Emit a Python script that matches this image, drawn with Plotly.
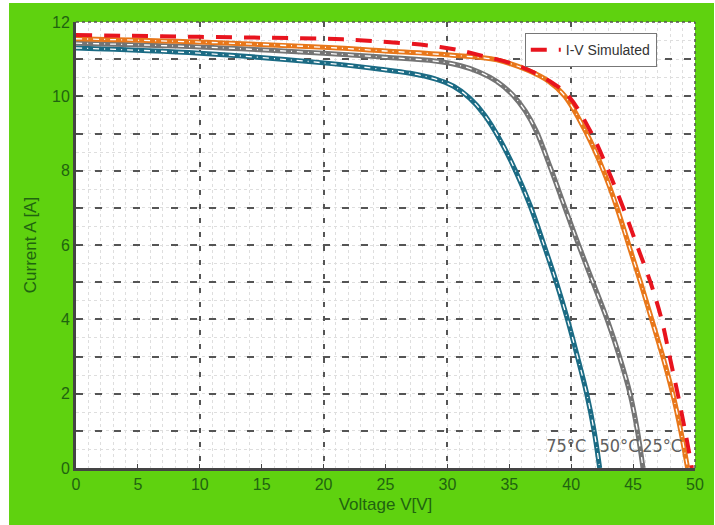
import plotly.graph_objects as go

# I-V characteristics of a PV module at three cell temperatures (measured)
v_25 = [0, 10, 20, 25, 30.2, 34.0, 36.5, 38.2, 39.5, 41.25, 42.6, 43.7, 44.65, 45.6, 46.5, 47.4, 48.2, 48.85, 49.4]
i_25 = [11.55, 11.46, 11.32, 11.22, 11.11, 10.98, 10.7, 10.4, 10.0, 9.0, 8.0, 7.0, 6.0, 5.0, 4.0, 3.0, 2.0, 1.0, 0.0]

v_50 = [0, 10, 20, 25, 29.0, 31.0, 32.6, 34.0, 35.3, 36.3, 37.2, 38.3, 39.5, 40.6, 41.75, 42.9, 43.9, 44.75, 45.35, 45.8]
i_50 = [11.43, 11.33, 11.16, 11.05, 10.95, 10.83, 10.65, 10.4, 10.03, 9.6, 9.05, 8.1, 7.0, 6.0, 5.0, 4.0, 3.0, 2.0, 1.0, 0.0]

v_75 = [0, 10, 20, 24.6, 27.0, 29.0, 30.5, 31.8, 33.0, 34.3, 35.5, 36.7, 37.8, 38.8, 39.7, 40.5, 41.25, 41.85, 42.3]
i_75 = [11.30, 11.16, 10.9, 10.73, 10.62, 10.47, 10.27, 9.95, 9.5, 8.8, 8.0, 7.05, 6.0, 5.0, 4.0, 3.0, 2.0, 1.0, 0.0]

# Simulated I-V curve (25 °C)
v_sim = [0, 10, 20, 22.9, 29.4, 32.6, 35.9, 38.3, 39.8, 41.65, 43.0, 44.2, 45.3, 46.4, 47.3, 47.95, 48.6, 49.2, 49.75]
i_sim = [11.65, 11.6, 11.55, 11.51, 11.33, 11.11, 10.8, 10.4, 10.0, 9.0, 8.0, 7.0, 6.0, 5.0, 4.0, 3.0, 2.0, 1.0, 0.0]

temp_labels = ["75°C", "50°C", "25°C"]
temp_label_v = [39.6, 43.9, 47.35]
temp_label_i = [0.55, 0.55, 0.55]

x_ticks = [0, 5, 10, 15, 20, 25, 30, 35, 40, 45, 50]
y_ticks = list(range(0, 13))
y_ticktext = [str(t) if t % 2 == 0 else "" for t in y_ticks]
x_major_grid = [10, 20, 30, 40]

GREEN_BG = "#5fd20f"
TICK_GREEN = "#1f6410"
SMOOTH = 1.0

fig = go.Figure()

measured = [
    (v_75, i_75, "#1b6b84"),
    (v_50, i_50, "#747474"),
    (v_25, i_25, "#e8771a"),
]
for v, i, col in measured:
    fig.add_trace(go.Scatter(x=v, y=i, mode="lines", line=dict(color=col, width=5, shape="spline", smoothing=SMOOTH),
                             showlegend=False, hoverinfo="skip"))
    fig.add_trace(go.Scatter(x=v, y=i, mode="lines", line=dict(color="white", width=1.3, dash="6px,5px,1px,5px",
                                                               shape="spline", smoothing=SMOOTH),
                             showlegend=False, hoverinfo="skip"))

fig.add_trace(go.Scatter(x=v_sim, y=i_sim, mode="lines", name="I-V Simulated",
                         line=dict(color="#e8141e", width=4, dash="16px,12px", shape="spline", smoothing=SMOOTH)))

# invisible trace on the overlay axis that carries the 10 V dashed grid
fig.add_trace(go.Scatter(x=[0, 50], y=[0, 0], xaxis="x2", mode="lines", line=dict(width=0),
                         showlegend=False, hoverinfo="skip"))

fig.add_trace(go.Scatter(x=temp_label_v, y=temp_label_i, mode="text", text=temp_labels,
                         textfont=dict(family="DejaVu Sans Condensed, Liberation Sans Narrow, sans-serif",
                                       size=18, color="#606060"),
                         showlegend=False, hoverinfo="skip"))

fig.update_layout(
    width=715, height=525,
    margin=dict(l=76, r=20, t=22, b=57),
    paper_bgcolor=GREEN_BG,
    plot_bgcolor="white",
    font=dict(family="Liberation Sans, Arial, sans-serif", color=TICK_GREEN, size=16),
    xaxis=dict(
        range=[0, 50], tickvals=x_ticks, showgrid=False, zeroline=False,
        showline=True, linecolor="#444444", linewidth=3,
        ticks="inside", ticklen=4, tickcolor="#444444",
        tickfont=dict(size=16, color=TICK_GREEN),
        title=dict(text="Voltage V[V]", font=dict(size=17, color=TICK_GREEN), standoff=6),
        minor=dict(dtick=1, showgrid=True, gridcolor="#dedede", griddash="dot", gridwidth=1, ticks=""),
    ),
    xaxis2=dict(
        range=[0, 50], overlaying="x", side="top", tickvals=x_major_grid, showticklabels=False,
        showgrid=True, gridcolor="#555555", griddash="5px,9px", gridwidth=2, zeroline=False, ticks="",
    ),
    yaxis=dict(
        range=[0, 12], tickvals=y_ticks, ticktext=y_ticktext,
        showgrid=True, gridcolor="#555555", griddash="7px,12px", gridwidth=2, zeroline=False,
        showline=True, linecolor="#444444", linewidth=3,
        ticks="inside", ticklen=4, tickcolor="#444444",
        tickfont=dict(size=16, color=TICK_GREEN),
        title=dict(text="Current A [A]", font=dict(size=17, color=TICK_GREEN), standoff=12),
        minor=dict(dtick=0.5, showgrid=True, gridcolor="#dedede", griddash="dot", gridwidth=1, ticks=""),
    ),
    legend=dict(
        x=0.725, y=0.975, xanchor="left", yanchor="top",
        bgcolor="white", bordercolor="#777777", borderwidth=1,
        font=dict(size=14, color="#333333"),
    ),
    shapes=[
        # thin white strips along the left, top and right edges
        dict(type="rect", xref="paper", yref="paper", x0=-0.2, x1=-0.1082, y0=-0.2, y1=1.2,
             fillcolor="white", line=dict(width=0), layer="below"),
        dict(type="rect", xref="paper", yref="paper", x0=-0.2, x1=1.2, y0=1.0426, y1=1.2,
             fillcolor="white", line=dict(width=0), layer="below"),
        dict(type="rect", xref="paper", yref="paper", x0=1.0307, x1=1.2, y0=-0.2, y1=1.2,
             fillcolor="white", line=dict(width=0), layer="below"),
        # dotted top and right frame
        dict(type="line", xref="paper", yref="paper", x0=0, x1=1, y0=1, y1=1,
             line=dict(color="#555555", width=1.5, dash="dot")),
        dict(type="line", xref="paper", yref="paper", x0=1, x1=1, y0=0, y1=1,
             line=dict(color="#555555", width=1.5, dash="dot")),
    ],
)

fig.write_html("out.html")
